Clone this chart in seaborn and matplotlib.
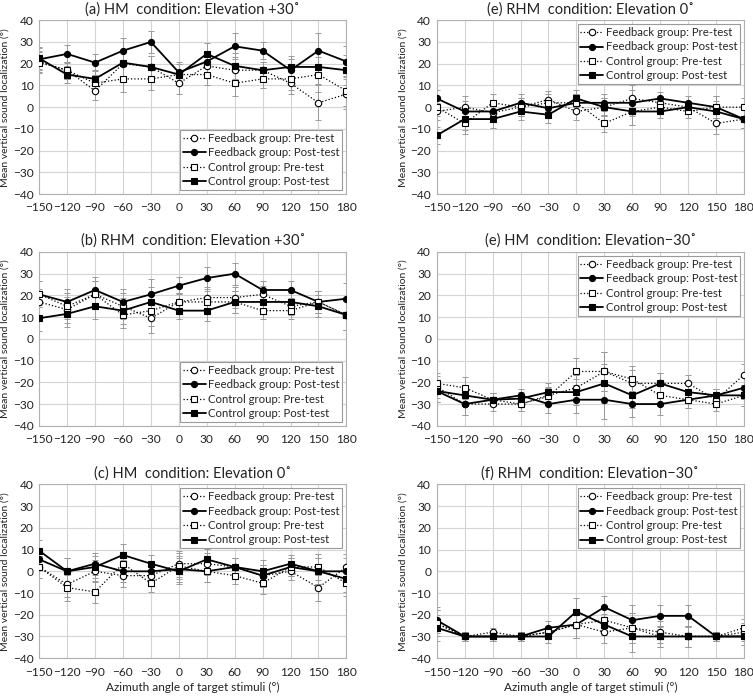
import seaborn as sns
import matplotlib.pyplot as plt

# azimuth angles (deg)
azimuth = [-150, -120, -90, -60, -30, 0, 30, 60, 90, 120, 150, 180]

# (a) HM, elevation +30
a_fb_pre = [21, 17, 7.5, 20, 18.5, 11, 19, 17, 17, 11, 2, 6]
a_fb_post = [22, 24.5, 20.5, 26, 30, 16, 21, 28, 26, 17, 26, 21]
a_ct_pre = [20.5, 17, 11, 13, 13, 15, 15, 11, 13, 13, 15, 7.5]
a_ct_post = [22.5, 15, 13, 20.5, 18.5, 15, 24.5, 19, 17, 18.5, 18.5, 17]
a_err = [5, 4, 4, 6, 5, 5, 5, 6, 4, 5, 8, 7]

# (e) RHM, elevation 0
e1_fb_pre = [-2, 0, -2.5, 0, 3.5, -2, 0, 4, 2, 0, -7.5, -5.5]
e1_fb_post = [4, -2, -2, 2, -0.5, 2, 2, 2, 4, 2, 0, -5.5]
e1_ct_pre = [0, -7.5, 2, 0, 2, 2, -7.5, -2, 0, -2, 0, 0]
e1_ct_post = [-13, -5.5, -5.5, -2, -3.5, 4, 0, -2, -2, 0, -2, -5.5]
e1_err = [4, 5, 4, 4, 4, 4, 4, 6, 3, 3, 5, 4]

# (b) RHM, elevation +30
b_fb_pre = [17, 13.5, 20.5, 15, 9.5, 17, 19, 19, 20.5, 15, 17, 11]
b_fb_post = [20.5, 17, 22.5, 17, 20.5, 24.5, 28, 30, 22.5, 22.5, 17, 18.5]
b_ct_pre = [20.5, 15, 20.5, 11, 13, 17, 17, 17, 13, 13, 17, 11]
b_ct_post = [9.5, 11.5, 15, 13, 17, 13, 13, 17, 17, 17, 15, 11]
b_err = [6, 6, 6, 6, 7, 4, 5, 5, 4, 4, 5, 7]

# (e) HM, elevation -30
e2_fb_pre = [-22, -30, -30, -30, -26, -22.5, -15, -20.5, -20.5, -20.5, -28, -16.5]
e2_fb_post = [-24, -30, -28, -26, -30, -28, -28, -30, -30, -28, -26, -22.5]
e2_ct_pre = [-20.5, -22.5, -28, -30, -26.5, -15, -15, -18.5, -26, -28, -30, -26]
e2_ct_post = [-24, -26, -28, -27.5, -24.5, -24.5, -20.5, -26, -20.5, -24.5, -26, -26]
e2_err = [5, 5, 3, 3, 4, 6, 9, 6, 5, 4, 3, 5]

# (c) HM, elevation 0
c_fb_pre = [2, -6, 0, -2, -2, 3.5, 3.5, 2, -2, 0, -7.5, 2]
c_fb_post = [5.5, 0, 3.5, 0, 0, 1, 0, 2, -2, 2, 0, 0]
c_ct_pre = [2, -7.5, -9.5, 3.5, -5.5, 2.5, 0, -2, -5.5, 2, 2, -5.5]
c_ct_post = [9.5, 0, 2, 7.5, 3.5, 0, 5.5, 2, 0, 3.5, 0, -3.5]
c_err = [5, 6, 5, 5, 4, 6, 5, 4, 5, 4, 6, 6]

# (f) RHM, elevation -30
f_fb_pre = [-24, -30, -28, -30, -28, -24.5, -28, -26, -28, -30, -30, -28]
f_fb_post = [-22.5, -30, -30, -30, -26, -24.5, -16.5, -22.5, -20.5, -20.5, -30, -30]
f_ct_pre = [-24, -30, -30, -30, -28, -24.5, -22.5, -26, -30, -30, -30, -26]
f_ct_post = [-26, -30, -30, -30, -30, -18.5, -24.5, -30, -30, -30, -30, -30]
f_err = [6, 2, 2, 2, 3, 6, 5, 7, 5, 5, 2, 4]

series_labels = ["Feedback group: Pre-test", "Feedback group: Post-test",
                 "Control group: Pre-test", "Control group: Post-test"]

deg = "\u02da"
panels = [
    ("(a) HM  condition: Elevation +30" + deg, [a_fb_pre, a_fb_post, a_ct_pre, a_ct_post], a_err, "lower right"),
    ("(e) RHM  condition: Elevation 0" + deg, [e1_fb_pre, e1_fb_post, e1_ct_pre, e1_ct_post], e1_err, "upper right"),
    ("(b) RHM  condition: Elevation +30" + deg, [b_fb_pre, b_fb_post, b_ct_pre, b_ct_post], b_err, "lower right"),
    ("(e) HM  condition: Elevation\u221230" + deg, [e2_fb_pre, e2_fb_post, e2_ct_pre, e2_ct_post], e2_err, "upper right"),
    ("(c) HM  condition: Elevation 0" + deg, [c_fb_pre, c_fb_post, c_ct_pre, c_ct_post], c_err, "upper right"),
    ("(f) RHM  condition: Elevation\u221230" + deg, [f_fb_pre, f_fb_post, f_ct_pre, f_ct_post], f_err, "upper right"),
]

# style per series: linestyle, marker, face colour, marker size, line width
styles = [(":", "o", "white", 4.6, 0.9),
          ("-", "o", "black", 4.4, 1.3),
          (":", "s", "white", 5.0, 0.9),
          ("-", "s", "black", 5.0, 1.3)]

sns.set_style("white")
plt.rcParams['font.family'] = ['Lato', 'DejaVu Sans']

fig = plt.figure(figsize=(7.53, 6.98), dpi=100)

# axes positions in figure fractions (left, bottom, width, height)
lefts = [0.052, 0.580]
bottoms = [0.722, 0.390, 0.057]
w, h = 0.408, 0.249

for i, (title, data, err, loc) in enumerate(panels):
    ax = fig.add_axes([lefts[i % 2], bottoms[i // 2], w, h])
    for vals in data:
        ax.errorbar(azimuth, vals, yerr=err, fmt="none", ecolor="#9a9a9a",
                    elinewidth=0.7, capsize=2, capthick=0.7, zorder=2)
    for vals, lab, (ls, mk, fc, ms, lw) in zip(data, series_labels, styles):
        sns.lineplot(x=azimuth, y=vals, ax=ax, color="black", linestyle=ls,
                     linewidth=lw, marker=mk, markersize=ms, markerfacecolor=fc,
                     markeredgecolor="black", markeredgewidth=0.8, label=lab,
                     zorder=3)
    ax.set_xlim(-150, 180)
    ax.set_ylim(-40, 40)
    ax.set_xticks(azimuth)
    ax.set_yticks(range(-40, 41, 10))
    ax.grid(True, color="#d4d4d4", linewidth=0.8)
    ax.set_axisbelow(True)
    for sp in ax.spines.values():
        sp.set_color("#b0b0b0")
        sp.set_linewidth(0.8)
    ax.tick_params(axis="x", length=0, labelsize=8.6, pad=6, colors="#222222")
    ax.tick_params(axis="y", length=0, labelsize=8.6, pad=4, colors="#222222")
    ax.set_title(title, fontsize=10.5, pad=5, color="#222222")
    ax.set_ylabel("Mean vertical sound localization (\u00b0)", fontsize=7.5,
                  color="#222222", labelpad=2)
    if i // 2 == 2:
        ax.set_xlabel("Azimuth angle of target stimuli (\u00b0)", fontsize=8.5,
                      color="#222222", labelpad=3)
    else:
        ax.set_xlabel("")
    leg = ax.legend(loc=loc, fontsize=8.2, frameon=True, fancybox=False,
                    edgecolor="#9a9a9a", framealpha=1, handlelength=2.0,
                    handletextpad=0.2, labelspacing=0.3, borderpad=0.25,
                    borderaxespad=0.35)
    leg.get_frame().set_linewidth(0.8)

fig.savefig("out.png", dpi=100)
